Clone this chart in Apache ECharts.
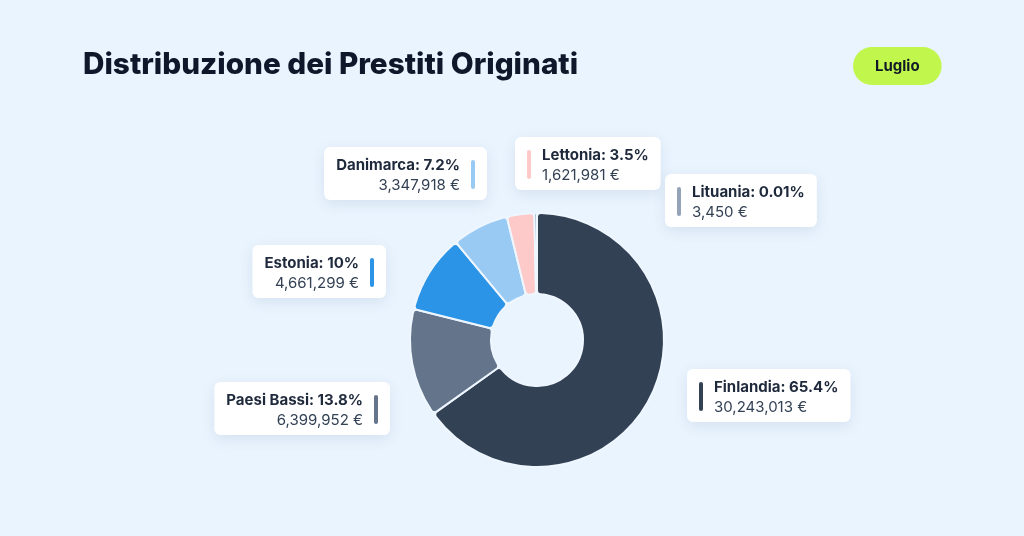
<!DOCTYPE html>
<html>
<head>
<meta charset="utf-8">
<script src="https://cdn.jsdelivr.net/npm/echarts@6/dist/echarts.min.js"></script>
<style>
	html, body { margin: 0; padding: 0; background: #eaf4fe; }
	#chart { width: 1024px; height: 536px; }
</style>
</head>
<body>
<div id="chart"></div>
<script>
	// dati
	var countries = ['Finlandia', 'Paesi Bassi', 'Estonia', 'Danimarca', 'Lettonia', 'Lituania'];
	var amounts = [30243013, 6399952, 4661299, 3347918, 1621981, 3450];
	var shareLabels = ['65.4%', '13.8%', '10%', '7.2%', '3.5%', '0.01%'];
	var sliceColors = ['#334155', '#64748b', '#2b94e6', '#99caf3', '#fec9c9', '#94a3b8'];
	var monthLabel = 'Luglio';
	var chartTitle = 'Distribuzione dei Prestiti Originati';

	// posizione dei box etichetta (x, y, lato della barretta)
	var labelBoxes = [
		{ x: 687, y: 369, side: 'left' },
		{ x: 390, y: 382, side: 'right' },
		{ x: 386, y: 245, side: 'right' },
		{ x: 487, y: 147, side: 'right' },
		{ x: 515, y: 137, side: 'left' },
		{ x: 665, y: 174, side: 'left' }
	];

	var FONT = 'Inter, "Noto Sans", sans-serif';

	function formatEuro(v) {
		return String(v).replace(/\B(?=(\d{3})+(?!\d))/g, ',') + ' €';
	}

	function makeRich(color, side) {
		var al = side === 'right' ? 'right' : 'left';
		return {
			n: { fontFamily: FONT, fontSize: 15, fontWeight: 700, color: '#1e293b', lineHeight: 20, align: al },
			v: { fontFamily: FONT, fontSize: 15, fontWeight: 400, color: '#334155', lineHeight: 20, align: al },
			gap: { width: 11, lineHeight: 20, align: al },
			bt: { width: 4, height: 15, lineHeight: 20, backgroundColor: color, borderRadius: [2, 2, 0, 0], verticalAlign: 'bottom', align: al },
			bb: { width: 4, height: 14, lineHeight: 20, backgroundColor: color, borderRadius: [0, 0, 2, 2], verticalAlign: 'top', align: al }
		};
	}

	var pieData = countries.map(function(name, i) {
		return {
			name: name,
			value: amounts[i],
			itemStyle: { color: sliceColors[i] },
			label: { rich: makeRich(sliceColors[i], labelBoxes[i].side) }
		};
	});

	var chart = echarts.init(document.getElementById('chart'));

	var option = {
		backgroundColor: '#eaf4fe',
		animation: false,
		title: [{
			text: chartTitle,
			left: 83,
			top: 50,
			padding: 0,
			textStyle: { fontFamily: FONT, fontSize: 29.7, fontWeight: 800, color: '#0f172a' }
		}, {
			text: monthLabel,
			left: 853,
			top: 47,
			backgroundColor: '#c1f74c',
			borderRadius: 19,
			padding: [10, 22, 10, 22],
			textStyle: { fontFamily: FONT, fontSize: 15, fontWeight: 700, color: '#111827', lineHeight: 18 }
		}],
		series: [{
			type: 'pie',
			center: [537, 340],
			radius: [46, 127],
			startAngle: 90,
			clockwise: true,
			minAngle: 1.2,
			avoidLabelOverlap: false,
			itemStyle: {
				borderColor: '#eef6ff',
				borderWidth: 2,
				borderRadius: 4
			},
			emphasis: { disabled: true },
			labelLine: { show: false },
			label: {
				show: true,
				position: 'outside',
				backgroundColor: '#ffffff',
				borderRadius: 6,
				padding: [8, 12, 5, 12],
				shadowBlur: 14,
				shadowOffsetY: 4,
				shadowColor: 'rgba(30, 64, 120, 0.10)',
				formatter: function(p) {
					var i = p.dataIndex;
					var title = p.name + ': ' + shareLabels[i];
					var val = formatEuro(amounts[i]);
					if (labelBoxes[i].side === 'right') {
						return '{n|' + title + '}{gap|}{bt|}\n{v|' + val + '}{gap|}{bb|}';
					}
					return '{bt|}{gap|}{n|' + title + '}\n{bb|}{gap|}{v|' + val + '}';
				}
			},
			labelLayout: function(params) {
				var b = labelBoxes[params.dataIndex];
				return {
					x: b.x,
					y: b.y,
					align: b.side === 'right' ? 'right' : 'left',
					verticalAlign: 'top'
				};
			},
			data: pieData
		}]
	};

	chart.setOption(option);
</script>
</body>
</html>
